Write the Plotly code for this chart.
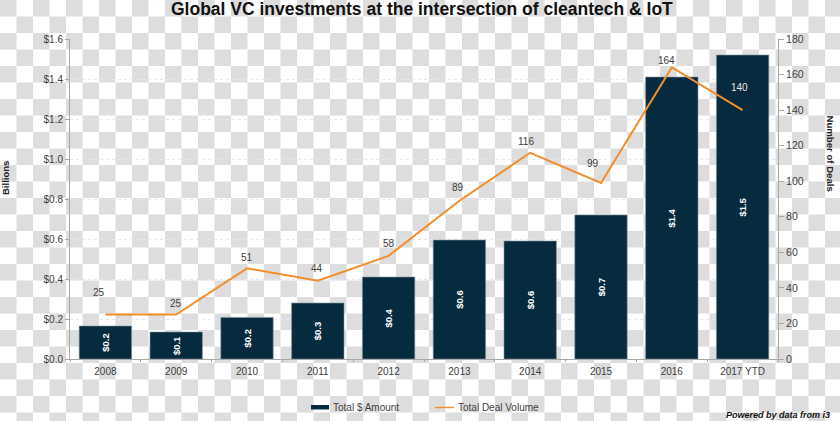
import plotly.graph_objects as go

categories = ["2008", "2009", "2010", "2011", "2012", "2013", "2014", "2015", "2016", "2017 YTD"]
amounts = [0.165, 0.135, 0.208, 0.28, 0.41, 0.595, 0.59, 0.72, 1.41, 1.52]
amount_labels = ["$0.2", "$0.1", "$0.2", "$0.3", "$0.4", "$0.6", "$0.6", "$0.7", "$1.4", "$1.5"]
deals = [25, 25, 51, 44, 58, 89, 116, 99, 164, 140]
left_ticks = [0, 0.2, 0.4, 0.6, 0.8, 1.0, 1.2, 1.4, 1.6]
left_labels = ["$0.0", "$0.2", "$0.4", "$0.6", "$0.8", "$1.0", "$1.2", "$1.4", "$1.6"]
right_ticks = [0, 20, 40, 60, 80, 100, 120, 140, 160, 180]
label_dx = [-6, 0, 0, -1, 0, -1, -4, -8, -5, -3]
label_dy = [22, 11, 11, 12, 12, 13, 11, 20, 7, 23]

W, H = 840, 421
ML, MR, MT, MB = 70, 62, 39, 62
NAVY = "#062a3e"
ORANGE = "#f28e2b"
TEXT = "#404040"
AXIS = "#a8a8a8"
GRID = "#e6e6f6"
FONT = "Liberation Sans"
CELL = 16.5


def px(x):
    return (x - ML) / (W - ML - MR)


def py(y):
    return 1 - (y - MT) / (H - MT - MB)


# Checkerboard backdrop as one path in paper coordinates
parts = []
for r in range(26):
    for c in range(52):
        if (r + c) % 2 == 0:
            x0, x1 = px(c * CELL), px((c + 1) * CELL)
            y0, y1 = py(r * CELL), py((r + 1) * CELL)
            parts.append(f"M{x0:.5f},{y0:.5f}L{x1:.5f},{y0:.5f}L{x1:.5f},{y1:.5f}L{x0:.5f},{y1:.5f}Z")
board = dict(type="path", xref="paper", yref="paper", path="".join(parts),
             fillcolor="#dddddd", line=dict(width=0), layer="below")

fig = go.Figure()
fig.add_bar(x=categories, y=amounts, name="Total $ Amount", yaxis="y", width=0.74,
            marker=dict(color=NAVY, line=dict(color="#7f97a3", width=0.6)),
            text=[f"<b>{t}</b>" for t in amount_labels], textposition="inside",
            insidetextanchor="middle",
            textangle=-90, textfont=dict(family=FONT, size=9.5, color="white"),
            showlegend=False)
fig.add_scatter(x=categories, y=deals, name="Total Deal Volume", yaxis="y2", mode="lines",
                line=dict(color=ORANGE, width=2), showlegend=False)

annotations = []
for i, (d, dx, dy) in enumerate(zip(deals, label_dx, label_dy)):
    on_bar = i == len(deals) - 1
    annotations.append(dict(x=i, y=d, yref="y2", xref="x", text=str(d), showarrow=False,
                            xshift=dx, yshift=dy,
                            font=dict(family=FONT, size=10, color="#e8e8e8" if on_bar else TEXT)))


def note(x, y, text, size, color=TEXT, angle=0, xanchor="center"):
    annotations.append(dict(x=px(x), y=py(y), xref="paper", yref="paper", text=text, showarrow=False,
                            textangle=angle, xanchor=xanchor, yanchor="middle",
                            font=dict(family=FONT, size=size, color=color)))


note(422, 9.5, "<b>Global VC investments at the intersection of cleantech &amp; IoT</b>", 17.5, "#111111")
note(5, 178, "<b>Billions</b>", 9.5, "#222222", angle=-90)
note(830, 153.5, "<b>Number of Deals</b>", 9.6, "#222222", angle=90)
note(331, 407, "Total $ Amount", 10, TEXT, xanchor="left")
note(456, 407, "Total Deal Volume", 10, TEXT, xanchor="left")
note(832, 415, "<b><i>Powered by data from i3</i></b>", 9, "#111111", xanchor="right")

swatches = [
    dict(type="rect", xref="paper", yref="paper", x0=px(311), x1=px(329), y0=py(405), y1=py(409.5),
         fillcolor=NAVY, line=dict(width=0)),
    dict(type="line", xref="paper", yref="paper", x0=px(435), x1=px(454), y0=py(407.5), y1=py(407.5),
         line=dict(color=ORANGE, width=1.4)),
]

fig.update_layout(
    width=W, height=H, autosize=False,
    margin=dict(l=ML, r=MR, t=MT, b=MB),
    paper_bgcolor="white", plot_bgcolor="rgba(0,0,0,0)",
    font=dict(family=FONT, size=10, color=TEXT),
    bargap=0.26,
    xaxis=dict(type="category", range=[-0.5, 9.5], showline=True, linecolor=AXIS, linewidth=1,
               ticks="outside", ticklen=2, tickcolor=AXIS, tickson="boundaries", showgrid=False,
               tickfont=dict(size=10, color=TEXT), ticklabelstandoff=3),
    yaxis=dict(range=[0, 1.6], tickvals=left_ticks, ticktext=left_labels, showline=True,
               linecolor=AXIS, linewidth=1, ticks="outside", ticklen=4, tickcolor=AXIS,
               showgrid=True, gridcolor=GRID, griddash="dot", gridwidth=1, zeroline=False),
    yaxis2=dict(range=[0, 180], tickvals=right_ticks, overlaying="y", side="right", showline=True,
                linecolor=AXIS, linewidth=1, ticks="outside", ticklen=5, tickcolor=AXIS,
                tickfont=dict(size=10.5, color=TEXT), showgrid=False, zeroline=False),
    shapes=[board] + swatches,
    annotations=annotations,
    showlegend=False,
)

fig.write_html("out.html", config={"displayModeBar": False},
               post_script="document.body.style.margin='0';document.body.style.overflow='hidden';")
